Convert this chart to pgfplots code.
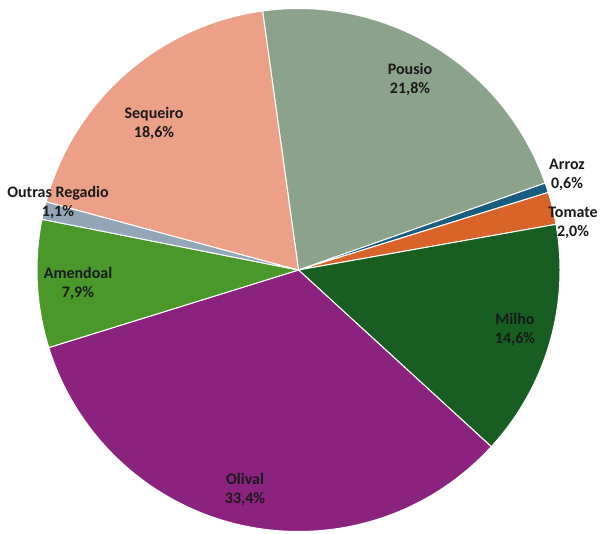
\documentclass[border=0pt]{standalone}
\usepackage{pgfplots}
\pgfplotsset{compat=1.18}
\usepackage{pgfplotstable}
\usepackage{fontspec}
\setmainfont{Carlito}
\definecolor{cPousio}{RGB}{139,163,139}
\definecolor{cArroz}{RGB}{24,92,128}
\definecolor{cTomate}{RGB}{216,100,42}
\definecolor{cMilho}{RGB}{24,94,34}
\definecolor{cOlival}{RGB}{139,35,126}
\definecolor{cAmendoal}{RGB}{74,152,42}
\definecolor{cOutras}{RGB}{147,166,184}
\definecolor{cSequeiro}{RGB}{237,160,136}
\definecolor{ctext}{RGB}{26,26,26}
\pgfplotstableread[col sep=semicolon]{
label;value;color;lx;ly
Pousio;21.8;cPousio;111.5;191
Arroz;0.6;cArroz;268.5;95.5
Tomate;2.0;cTomate;274.5;47.5
Milho;14.6;cMilho;216.5;-59
Olival;33.4;cOlival;-53.5;-219
Amendoal;7.9;cAmendoal;-220.5;-13.5
Outras Regadio;1.1;cOutras;-240.5;68
Sequeiro;18.6;cSequeiro;-144.5;147
}\piedata
\def\splitdot#1.#2\relax{#1,#2}
\begin{document}
\begin{tikzpicture}
\begin{axis}[name=pie,x=1pt,y=1pt,xmin=-298.5,xmax=302.5,ymin=-263,ymax=270,
  hide axis,ticks=none,clip=false]
\def\curang{97.9}
\pgfplotsforeachungrouped \i in {0,...,7}{%
  \pgfplotstablegetelem{\i}{value}\of\piedata \let\v\pgfplotsretval
  \pgfplotstablegetelem{\i}{color}\of\piedata \let\c\pgfplotsretval
  \pgfmathsetmacro\endang{\curang-3.6*\v}%
  \edef\temp{\noexpand\fill[\c,draw=white,line width=1pt,line join=round] (axis cs:0,0) -- ++(\curang:261.5pt) arc[start angle=\curang,end angle=\endang,radius=261.5pt] -- cycle;}%
  \temp
  \global\let\curang\endang
}
\pgfplotsforeachungrouped \i in {0,...,7}{%
  \pgfplotstablegetelem{\i}{value}\of\piedata \let\v\pgfplotsretval
  \pgfplotstablegetelem{\i}{label}\of\piedata \let\lab\pgfplotsretval
  \pgfplotstablegetelem{\i}{lx}\of\piedata \let\lx\pgfplotsretval
  \pgfplotstablegetelem{\i}{ly}\of\piedata \let\ly\pgfplotsretval
  \edef\pct{\expandafter\splitdot\v\relax}%
  \edef\temp{\noexpand\node[align=center,font=\noexpand\fontsize{16}{19}\noexpand\selectfont\noexpand\bfseries,text=ctext,inner sep=0pt] at (axis cs:\lx,\ly) {\lab\noexpand\\\pct\noexpand\%};}%
  \temp
}
\end{axis}
\pgfresetboundingbox
\path (pie.south west) rectangle (pie.north east);
\end{tikzpicture}
\end{document}
